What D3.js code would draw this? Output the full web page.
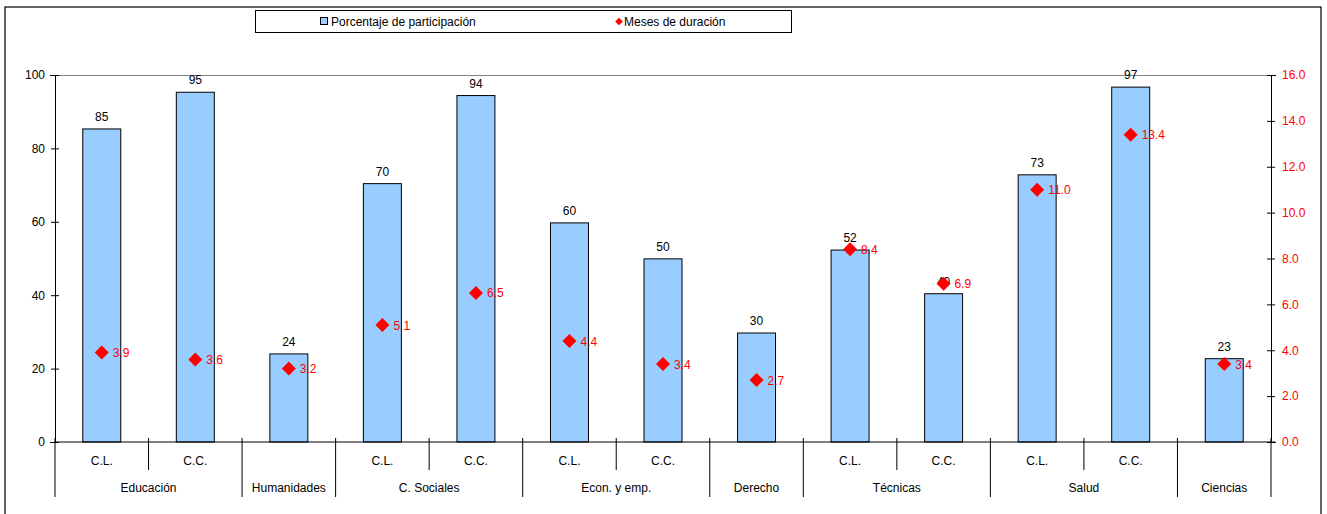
<!DOCTYPE html>
<html><head><meta charset="utf-8">
<script src="https://cdn.jsdelivr.net/npm/d3@7"></script>
<style>
body{margin:0;background:#fff;}
svg{display:block;font-family:"Liberation Sans",Arial,sans-serif;}
</style></head>
<body><svg id="c" width="1327" height="514"></svg>
<script>
const subLabels = ["C.L.","C.C.","","C.L.","C.C.","C.L.","C.C.","","C.L.","C.C.","C.L.","C.C.",""];
const groups = ["Educación","Humanidades","C. Sociales","Econ. y emp.","Derecho","Técnicas","Salud","Ciencias"];
const groupSizes = [2,1,2,2,1,2,2,1];
const participacion = [85.3,95.3,24.0,70.4,94.4,59.7,49.9,29.7,52.3,40.4,72.8,96.7,22.7];
const meses = [3.9,3.6,3.2,5.1,6.5,4.4,3.4,2.7,8.4,6.9,11.0,13.4,3.4];
const leftTicks = [0,20,40,60,80,100];
const rightTicks = [0,2,4,6,8,10,12,14,16];
const legendLabels = ["Porcentaje de participación","Meses de duración"];

const svg = d3.select("#c");
const L = 55, R = 1271, T = 75, B = 442;
const idx = d3.range(participacion.length);
const x = d3.scaleBand().domain(idx).range([L,R]).paddingInner(0.594).paddingOuter(0.297);
const yL = d3.scaleLinear().domain([0,100]).range([B,T]);
const yR = d3.scaleLinear().domain([0,16]).range([B,T]);
const step = x.step();

// outer border
svg.append("rect").attr("x",5).attr("y",7).attr("width",1316).attr("height",520)
  .attr("fill","none").attr("stroke","#000").attr("stroke-width",1.2);

// plot top border
svg.append("line").attr("x1",L).attr("x2",R).attr("y1",T+0.5).attr("y2",T+0.5).attr("stroke","#808080");

// bars
svg.append("g").selectAll("rect").data(idx).join("rect")
  .attr("x",i=>x(i)).attr("y",i=>yL(participacion[i]))
  .attr("width",x.bandwidth()).attr("height",i=>B-yL(participacion[i]))
  .attr("fill","#99CCFF").attr("stroke","#000").attr("stroke-width",1);

// bar labels
svg.append("g").selectAll("text").data(idx).join("text")
  .attr("x",i=>x(i)+x.bandwidth()/2).attr("y",i=>yL(participacion[i])-8)
  .attr("text-anchor","middle").attr("font-size",12).attr("fill","#000")
  .text(i=>d3.format(".0f")(participacion[i]));

// left axis
const gl = svg.append("g").attr("transform",`translate(${L},0)`)
  .call(d3.axisLeft(yL).tickValues(leftTicks).tickSize(5).tickPadding(5).tickFormat(d3.format("d")));
gl.select(".domain").attr("stroke","#000");
gl.selectAll(".tick line").attr("x2",4).attr("x1",-4);
gl.selectAll("text").attr("font-size",12).attr("font-family","Liberation Sans, Arial, sans-serif").attr("fill","#000");

// right axis
const gr = svg.append("g").attr("transform",`translate(${R},0)`)
  .call(d3.axisRight(yR).tickValues(rightTicks).tickSize(5).tickPadding(6).tickFormat(d3.format(".1f")));
gr.select(".domain").attr("stroke","#000");
gr.selectAll(".tick line").attr("x1",-4).attr("x2",4);
gr.selectAll("text").attr("font-size",12).attr("font-family","Liberation Sans, Arial, sans-serif").attr("fill","#FF0000");

// x axis line
svg.append("line").attr("x1",L).attr("x2",R+4).attr("y1",B).attr("y2",B).attr("stroke","#000").attr("stroke-width",1.2);

// category separators and labels
const gx = svg.append("g");
let pos = 0;
const groupStarts = [];
groupSizes.forEach((s,g)=>{ groupStarts.push(pos); pos += s; });
const bounds = groupStarts.concat([idx.length]);
gx.selectAll("line.long").data(bounds).join("line").attr("class","long")
  .attr("x1",b=>L+b*step).attr("x2",b=>L+b*step).attr("y1",B-4).attr("y2",497)
  .attr("stroke","#000").attr("stroke-width",1);
const inner = [];
groupStarts.forEach((st,g)=>{ for(let k=1;k<groupSizes[g];k++) inner.push(st+k); });
gx.selectAll("line.short").data(inner).join("line").attr("class","short")
  .attr("x1",b=>L+b*step).attr("x2",b=>L+b*step).attr("y1",B-4).attr("y2",470)
  .attr("stroke","#000").attr("stroke-width",1);
gx.selectAll("text.sub").data(idx.filter(i=>subLabels[i])).join("text").attr("class","sub")
  .attr("x",i=>x(i)+x.bandwidth()/2).attr("y",465).attr("text-anchor","middle")
  .attr("font-size",12).attr("fill","#000").text(i=>subLabels[i]);
gx.selectAll("text.grp").data(groups).join("text").attr("class","grp")
  .attr("x",(g,j)=>L+(groupStarts[j]+groupSizes[j]/2)*step).attr("y",492).attr("text-anchor","middle")
  .attr("font-size",12).attr("fill","#000").text(g=>g);

// diamonds
const diamond = d3.symbol().type(d3.symbolSquare).size(98);
svg.append("g").selectAll("path").data(idx).join("path")
  .attr("d",diamond())
  .attr("transform",i=>`translate(${x(i)+x.bandwidth()/2},${yR(meses[i])}) rotate(45)`)
  .attr("fill","#FF0000");
svg.append("g").selectAll("text").data(idx).join("text")
  .attr("x",i=>x(i)+x.bandwidth()/2+11).attr("y",i=>yR(meses[i])+4.5)
  .attr("font-size",12).attr("fill","#FF0000").text(i=>d3.format(".1f")(meses[i]));

// legend
const lg = svg.append("g");
lg.append("rect").attr("x",255.5).attr("y",10.5).attr("width",536).attr("height",22)
  .attr("fill","#fff").attr("stroke","#000").attr("stroke-width",1);
lg.append("rect").attr("x",320.5).attr("y",17.5).attr("width",7).attr("height",7)
  .attr("fill","#99CCFF").attr("stroke","#000");
lg.append("text").attr("x",331).attr("y",26).attr("font-size",12).text(legendLabels[0]);
lg.append("path").attr("d",d3.symbol().type(d3.symbolSquare).size(30)())
  .attr("transform","translate(619,21.5) rotate(45)").attr("fill","#FF0000");
lg.append("text").attr("x",624).attr("y",26).attr("font-size",12).text(legendLabels[1]);
</script></body></html>
